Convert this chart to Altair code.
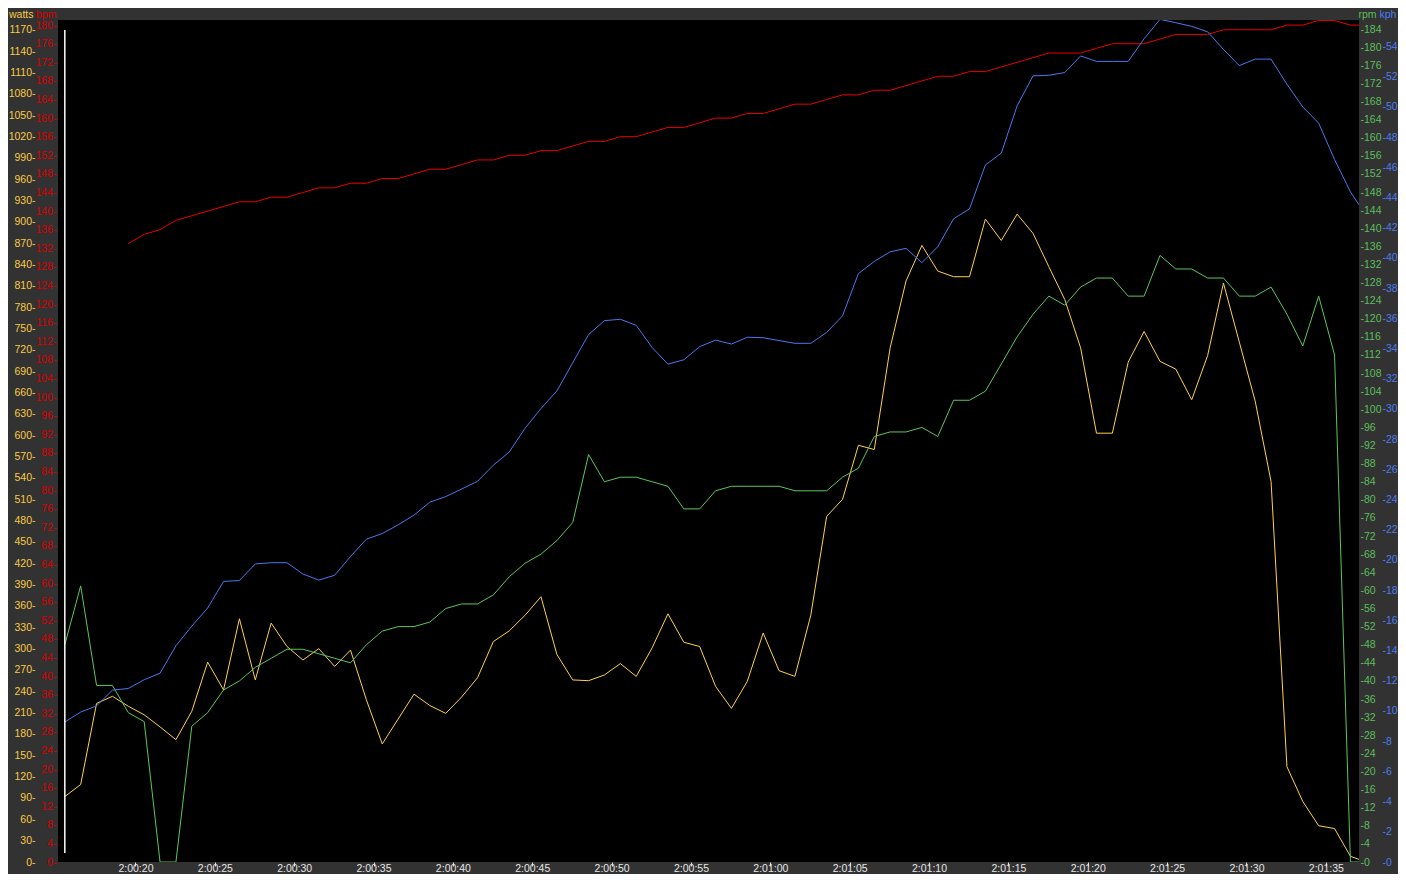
import altair as alt
import pandas as pd

# ---- data (one sample per second) ----
watts = [92, 109, 223, 233, 219, 207, 190, 172, 212, 281,
         242, 342, 256, 336, 303, 284, 300, 275, 298, 228,
         166, 201, 236, 220, 209, 232, 259, 310, 325, 347,
         373, 292, 256, 255, 263, 279, 261, 301, 349, 309,
         303, 247, 216, 254, 322, 269, 261, 347, 486, 510,
         586, 580, 723, 817, 867, 831, 823, 823, 904, 874,
         911, 884, 837, 791, 723, 603, 603, 703, 746, 704,
         693, 650, 712, 814, 731, 648, 535, 134, 85, 51,
         47, 8, 0]

bpm = [None, None, None, None, 133, 135, 136, 138, 139, 140,
       141, 142, 142, 143, 143, 144, 145, 145, 146, 146,
       147, 147, 148, 149, 149, 150, 151, 151, 152, 152,
       153, 153, 154, 155, 155, 156, 156, 157, 158, 158,
       159, 160, 160, 161, 161, 162, 163, 163, 164, 165,
       165, 166, 166, 167, 168, 169, 169, 170, 170, 171,
       172, 173, 174, 174, 174, 175, 176, 176, 176, 177,
       178, 178, 178, 179, 179, 179, 179, 180, 180, 181,
       181, 180, 180]

rpm = [48, 61, 39, 39, 33, 31, 0, 0, 30, 33,
       38, 40, 43, 45, 47, 47, 46, 45, 44, 48,
       51, 52, 52, 53, 56, 57, 57, 59, 63, 66,
       68, 71, 75, 90, 84, 85, 85, 84, 83, 78,
       78, 82, 83, 83, 83, 83, 82, 82, 82, 85,
       87, 94, 95, 95, 96, 94, 102, 102, 104, 110,
       116, 121, 125, 123, 127, 129, 129, 125, 125, 134,
       131, 131, 129, 129, 125, 125, 127, 121, 114, 125,
       112, 0, 0]

kph = [9.27, 9.93, 10.34, 11.38, 11.49, 12.07, 12.5, 14.32, 15.62, 16.82,
       18.58, 18.64, 19.74, 19.82, 19.82, 19.07, 18.67, 18.99, 20.23, 21.38,
       21.75, 22.33, 22.97, 23.83, 24.2, 24.7, 25.21, 26.28, 27.15, 28.73,
       30.03, 31.19, 33.06, 34.93, 35.85, 35.94, 35.54, 34.07, 32.97, 33.26,
       34.13, 34.56, 34.3, 34.75, 34.72, 34.53, 34.35, 34.35, 35.07, 36.17,
       38.97, 39.77, 40.41, 40.64, 39.69, 40.75, 42.6, 43.25, 46.16, 46.94,
       50.07, 52.06, 52.1, 52.28, 53.38, 53.02, 53.02, 53.02, 54.52, 55.8,
       55.58, 55.34, 54.98, 53.81, 52.74, 53.17, 53.17, 51.5, 50.0, 48.93,
       46.52, 44.38, 42.8]

# seconds after 2:00:00 of the first sample, one sample per second
start_sec = 15.55
times = [start_sec + i for i in range(len(watts))]
cursor_time = times[0]

time_ticks = list(range(20, 96, 5))
watts_ticks = list(range(0, 1171, 30))
bpm_ticks = list(range(0, 181, 4))
rpm_ticks = list(range(0, 185, 4))
kph_ticks = list(range(0, 55, 2))

df = pd.DataFrame({"t": times, "watts": watts, "bpm": bpm, "rpm": rpm, "kph": kph})

FONT = "Liberation Sans"
FS = 10.5

time_label = ("'2:' + (floor(datum.value/60) < 10 ? '0' : '') + floor(datum.value/60) + ':' + "
              "((datum.value % 60) < 10 ? '0' : '') + (datum.value % 60)")

x_enc = alt.X(
    "t:Q",
    scale=alt.Scale(domain=[15.12, 97.09], nice=False, zero=False),
    axis=alt.Axis(values=time_ticks, labelExpr=time_label, title=None, domain=False,
                  grid=False, ticks=True, tickSize=4, tickColor="#dddddd",
                  labelColor="#e6e6e6", labelFont=FONT, labelFontSize=FS,
                  labelBaseline="alphabetic", labelPadding=5.5, labelOverlap=False),
)


def y_axis(orient, offset, color, title, values, title_x, pad):
    left = orient == "left"
    return alt.Axis(
        orient=orient, offset=offset, values=values, format="d",
        labelExpr="datum.label + '-'" if left else "'-' + datum.label",
        domain=False, grid=False, ticks=False, tickSize=0,
        labelColor=color, labelFont=FONT, labelFontSize=FS,
        labelPadding=pad, labelOverlap=False, labelFlush=False,
        title=title, titleColor=color, titleFont=FONT, titleFontSize=FS,
        titleFontWeight="normal", titleAngle=0, titleX=title_x, titleY=-2.5,
        titleAlign="right" if left else "left", titleBaseline="alphabetic",
    )


base = alt.Chart(df)

watts_line = base.mark_line(color="#ffd24d", strokeWidth=1, clip=True).encode(
    x=x_enc,
    y=alt.Y("watts:Q", scale=alt.Scale(domain=[0, 1184], nice=False),
            axis=y_axis("left", 21, "#f9cb45", "watts", watts_ticks, -4, 2)),
)

bpm_line = base.mark_line(color="#e80000", strokeWidth=1, clip=True).encode(
    x=x_enc,
    y=alt.Y("bpm:Q", scale=alt.Scale(domain=[0, 181.1], nice=False),
            axis=y_axis("left", 0, "#d80000", "bpm", bpm_ticks, -2, 2)),
)

rpm_line = base.mark_line(color="#5cc65c", strokeWidth=1, clip=True).encode(
    x=x_enc,
    y=alt.Y("rpm:Q", scale=alt.Scale(domain=[0, 186], nice=False),
            axis=y_axis("right", 0, "#5cbf5c", "rpm", rpm_ticks, -1, 1)),
)

kph_line = base.mark_line(color="#4a78f0", strokeWidth=1, clip=True).encode(
    x=x_enc,
    y=alt.Y("kph:Q", scale=alt.Scale(domain=[0, 55.76], nice=False),
            axis=y_axis("right", 22, "#4a7cf0", "kph", kph_ticks, -2, 1)),
)

cursor = alt.Chart(pd.DataFrame({"t": [cursor_time]})).mark_rule(
    color="white", strokeWidth=1.5
).encode(x=x_enc, y=alt.value(10), y2=alt.value(833))

chart = (
    alt.layer(watts_line, bpm_line, rpm_line, kph_line, cursor)
    .resolve_scale(y="independent")
    .properties(
        width=1301,
        height=842,
        background="#323232",
        padding={"left": 50, "top": 12, "right": 39, "bottom": 12},
        autosize=alt.AutoSizeParams(type="none"),
    )
    .configure_view(fill="black", strokeWidth=0)
)

chart.save("out.html", embed_options={"renderer": "svg", "actions": False})
